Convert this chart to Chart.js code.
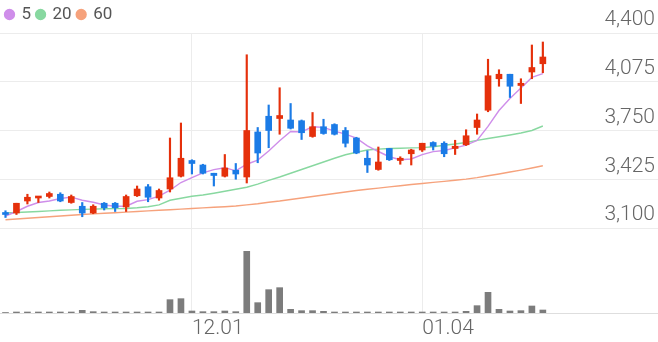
<!DOCTYPE html>
<html>
<head>
<meta charset="utf-8">
<script src="https://cdn.jsdelivr.net/npm/chart.js@4"></script>
<style>
  html, body { margin: 0; padding: 0; background: #fff; }
  #wrap { width: 658px; height: 342px; position: relative; }
</style>
</head>
<body>
<div id="wrap"><canvas id="c"></canvas></div>
<script>
// ---- data ----
const dates = ['11.08','11.09','11.10','11.13','11.14','11.15','11.16','11.17','11.20','11.21','11.22','11.23','11.24','11.27','11.28','11.29','11.30',
  '12.01','12.04','12.05','12.06','12.07','12.08','12.11','12.12','12.13','12.14','12.15','12.18','12.19','12.20','12.21','12.22','12.26','12.27','12.28',
  '01.02','01.03','01.04','01.05','01.08','01.09','01.10','01.11','01.12','01.15','01.16','01.17','01.18','01.19'];
const openP  = [3200,3200,3280,3300,3310,3325,3270,3245,3200,3265,3265,3240,3315,3375,3300,3360,3445,3550,3520,3465,3445,3485,3440,3740,3845,3830,3820,3815,3710,3775,3790,3750,3700,3565,3490,3630,3550,3595,3620,3670,3665,3630,3655,3770,3885,4095,4125,4050,4140,4195];
const closeP = [3190,3265,3305,3310,3330,3280,3310,3200,3245,3235,3235,3310,3360,3305,3350,3435,3565,3530,3465,3450,3500,3460,3750,3600,3750,3850,3765,3735,3775,3730,3725,3665,3600,3520,3540,3555,3565,3620,3665,3645,3595,3645,3715,3820,4115,4125,4045,4065,4170,4240];
const highP  = [3215,3265,3325,3310,3340,3335,3320,3270,3255,3270,3270,3320,3380,3390,3360,3700,3800,3555,3525,3465,3590,3530,4255,3770,3920,4035,3930,3820,3870,3825,3795,3770,3705,3615,3640,3630,3575,3625,3665,3675,3675,3685,3755,3860,4225,4155,4125,4095,4320,4340];
const lowP   = [3170,3190,3260,3270,3300,3275,3265,3175,3195,3220,3210,3210,3310,3275,3285,3340,3440,3460,3460,3380,3440,3425,3400,3535,3635,3725,3760,3690,3705,3725,3720,3640,3595,3470,3485,3550,3525,3520,3610,3620,3575,3590,3650,3725,3875,4045,3970,3930,4095,4135];
const ma5  = [3180,3210,3245,3270,3280,3297,3306,3285,3272,3253,3245,3245,3278,3289,3312,3352,3403,3436,3468,3489,3502,3481,3525,3553,3613,3682,3743,3741,3775,3771,3746,3726,3699,3648,3610,3575,3555,3560,3589,3609,3617,3634,3652,3683,3777,3883,3963,4033,4104,4129];
const ma20 = [3200,3203,3207,3210,3214,3218,3221,3224,3226,3228,3229,3230,3235,3242,3254,3285,3298,3312,3320,3332,3345,3358,3372,3392,3418,3440,3465,3490,3515,3540,3565,3588,3605,3620,3626,3630,3632,3634,3636,3642,3652,3660,3670,3684,3697,3708,3720,3733,3750,3780];
const ma60 = [3155,3160,3165,3170,3175,3180,3185,3190,3194,3198,3202,3206,3210,3214,3218,3222,3226,3230,3234,3238,3242,3247,3254,3262,3272,3280,3290,3300,3310,3320,3330,3340,3350,3358,3366,3374,3382,3390,3397,3404,3411,3418,3426,3436,3448,3460,3473,3486,3500,3515];
const volume = [15000,30000,30000,30000,30000,30000,30000,80000,40000,30000,30000,30000,30000,30000,30000,400000,430000,60000,40000,40000,60000,40000,1850000,310000,700000,760000,110000,70000,70000,50000,30000,30000,30000,30000,30000,30000,30000,30000,30000,30000,30000,30000,50000,220000,620000,110000,60000,70000,210000,90000];
const priceTicks = [3100, 3425, 3750, 4075, 4400];
const xTickLabels = ['12.01', '01.04'];
const maLabels = ['5', '20', '60'];

// ---- styling ----
const UP = '#e5300b', DOWN = '#1b7be6';
const MA_COLORS = ['#cf8eea', '#88d8a0', '#f6a27c'];
const FONT = 'Roboto, "Noto Sans", sans-serif';
const SLOTS = 60;

const idx = dates.map((d, i) => i);
const candleColor = (ctx) => {
  const i = ctx.dataIndex;
  return closeP[i] >= openP[i] ? UP : DOWN;
};

const maSets = [ma5, ma20, ma60].map((arr, k) => ({
  type: 'line',
  label: maLabels[k],
  data: idx.map(i => ({x: i, y: arr[i]})),
  borderColor: MA_COLORS[k],
  backgroundColor: MA_COLORS[k],
  borderWidth: 1.4,
  pointRadius: 0,
  pointStyle: 'circle',
  tension: 0,
  yAxisID: 'y',
  order: 2
}));

const chart = new Chart(document.getElementById('c'), {
  data: {
    datasets: [
      ...maSets,
      {
        type: 'bar', label: 'wick',
        data: idx.map(i => ({x: i, y: [lowP[i], highP[i]]})),
        backgroundColor: candleColor,
        barThickness: 1.5, grouped: false, yAxisID: 'y', order: 1
      },
      {
        type: 'bar', label: 'body',
        data: idx.map(i => ({x: i, y: [openP[i], closeP[i]]})),
        backgroundColor: candleColor,
        barThickness: 6, minBarLength: 2, grouped: false, yAxisID: 'y', order: 0
      },
      {
        type: 'bar', label: 'volume',
        data: idx.map(i => ({x: i, y: volume[i]})),
        backgroundColor: '#7c7c7c',
        barThickness: 6, grouped: false, yAxisID: 'yv', order: 0
      }
    ]
  },
  options: {
    responsive: true,
    maintainAspectRatio: false,
    devicePixelRatio: 1,
    animation: false,
    layout: { padding: 0 },
    plugins: {
      tooltip: { enabled: false },
      legend: {
        position: 'top',
        align: 'start',
        labels: {
          filter: (item) => maLabels.includes(item.text),
          usePointStyle: true,
          boxHeight: 7,
          boxWidth: 7,
          padding: 6,
          color: '#555',
          font: { family: FONT, size: 17 }
        }
      }
    },
    scales: {
      x: {
        type: 'linear',
        position: 'bottom',
        offset: false,
        min: -0.5,
        max: SLOTS - 0.5,
        afterBuildTicks: (axis) => {
          axis.ticks = xTickLabels.map(l => ({value: dates.indexOf(l)}));
        },
        afterFit: (axis) => { axis.height = 29; },
        ticks: {
          autoSkip: false, maxRotation: 0, align: 'start', padding: 3,
          color: '#666', font: { family: FONT, size: 21, weight: 300 },
          callback: (v) => dates[v]
        },
        grid: { color: '#ececec', drawTicks: false, offset: false },
        border: { display: true, color: '#dedede' }
      },
      y: {
        type: 'linear',
        position: 'right',
        stack: 'panels',
        stackWeight: 195,
        min: 3100,
        max: 4400,
        afterBuildTicks: (axis) => { axis.ticks = priceTicks.map(v => ({value: v})); },
        afterFit: (axis) => { axis.width = 0; },
        ticks: {
          mirror: true, padding: -3, labelOffset: -13,
          color: '#666', font: { family: FONT, size: 21, weight: 300 },
          callback: (v) => v.toLocaleString('en-US')
        },
        grid: { color: '#ececec', drawTicks: false },
        border: { display: false }
      },
      yv: {
        type: 'linear',
        position: 'right',
        stack: 'panels',
        stackWeight: 85,
        min: 0,
        max: 2550000,
        afterFit: (axis) => { axis.width = 0; },
        ticks: { display: false },
        grid: { display: false, drawTicks: false },
        border: { display: false }
      }
    }
  }
});
</script>
</body>
</html>
